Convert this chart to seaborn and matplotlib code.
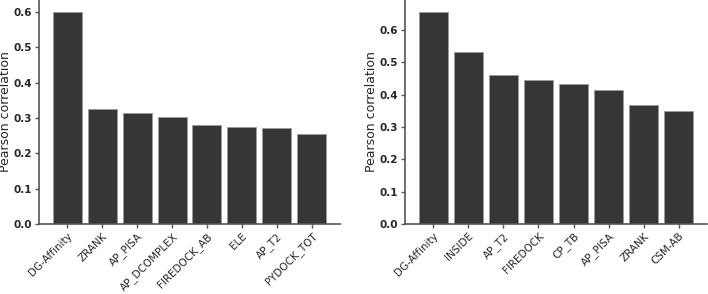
import matplotlib
matplotlib.use("Agg")
import matplotlib.pyplot as plt
import seaborn as sns
import pandas as pd

# data
left_methods = ["DG-Affinity", "ZRANK", "AP_PISA", "AP_DCOMPLEX",
                "FIREDOCK_AB", "ELE", "AP_T2", "PYDOCK_TOT"]
left_values = [0.601, 0.325, 0.313, 0.302, 0.279, 0.275, 0.271, 0.256]

right_methods = ["DG-Affinity", "INSIDE", "AP_T2", "FIREDOCK",
                 "CP_TB", "AP_PISA", "ZRANK", "CSM-AB"]
right_values = [0.656, 0.531, 0.460, 0.444, 0.434, 0.414, 0.368, 0.349]

sns.set_theme(context="paper", style="ticks")
plt.rcParams["font.family"] = ["DejaVu Sans"]

fig = plt.figure(figsize=(7.08, 2.94), dpi=100)
ax1 = fig.add_axes([39 / 708, 1 - 224 / 294, 301 / 708, 224 / 294])
ax2 = fig.add_axes([405 / 708, 1 - 224 / 294, 302 / 708, 224 / 294])

for ax, methods, values in [(ax1, left_methods, left_values),
                            (ax2, right_methods, right_values)]:
    df = pd.DataFrame({"method": methods, "r": values})
    sns.barplot(data=df, x="method", y="r", color="#363636", saturation=1,
                width=0.83, edgecolor="#9a9a9a", linewidth=0.6, ax=ax)
    ax.set_xlabel("")
    ax.set_ylabel("Pearson correlation", fontsize=9, labelpad=1)
    ax.tick_params(axis="x", labelrotation=45, labelsize=7.5, length=3,
                   color="#555555", pad=2)
    ax.tick_params(axis="y", labelsize=7.5, length=3, color="#555555", pad=2)
    for lab in ax.get_xticklabels():
        lab.set_ha("right")
        lab.set_rotation_mode("anchor")
        lab.set_fontweight("medium")
    for lab in ax.get_yticklabels():
        lab.set_fontweight("semibold")
    ax.set_xlim(-0.81, len(methods) - 1 + 0.81)
    ax.set_ylim(0, max(values) * 1.055)
    ax.set_yticks([0.0, 0.1, 0.2, 0.3, 0.4, 0.5, 0.6])
    sns.despine(ax=ax)
    for s in ["left", "bottom"]:
        ax.spines[s].set_color("#555555")
        ax.spines[s].set_linewidth(1.2)

fig.savefig("out.png", dpi=100, facecolor="white")
